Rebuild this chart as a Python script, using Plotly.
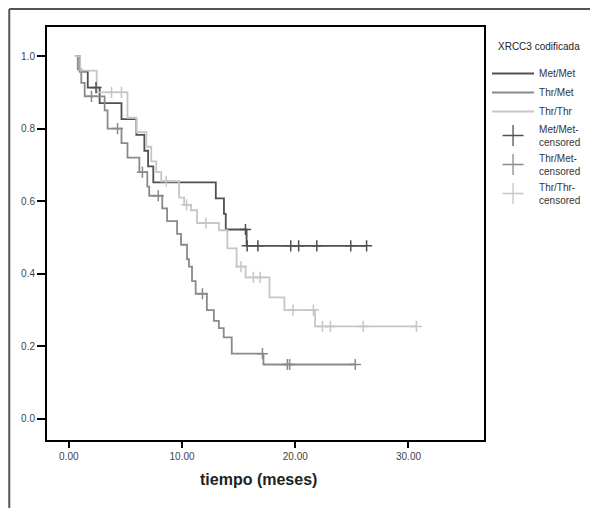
import plotly.graph_objects as go

# ---- data ----
metmet_t = [0.6, 0.96, 1.67, 2.72, 4.65, 5.96, 6.67, 7.0, 7.46, 12.98, 13.7, 13.86, 15.7, 26.3]
metmet_s = [1.0, 0.957, 0.913, 0.870, 0.826, 0.783, 0.739, 0.696, 0.652, 0.608, 0.565, 0.522, 0.477, 0.477]
metmet_cens_t = [2.4, 15.6, 15.75, 16.7, 19.6, 20.3, 21.9, 24.9, 26.3]
metmet_cens_s = [0.913, 0.522, 0.477, 0.477, 0.477, 0.477, 0.477, 0.477, 0.477]

thrmet_t = [0.53, 0.79, 1.1, 1.4, 3.16, 3.42, 4.65, 5.18, 6.23, 6.93, 7.1, 8.25, 8.68, 9.56,
            9.91, 10.44, 10.61, 10.88, 11.2, 12.19, 12.81, 13.25, 13.68, 14.39, 17.19, 25.3]
thrmet_s = [1.0, 0.963, 0.926, 0.889, 0.85, 0.80, 0.76, 0.72, 0.68, 0.64, 0.615, 0.58, 0.545, 0.51,
            0.48, 0.44, 0.42, 0.38, 0.345, 0.30, 0.27, 0.25, 0.225, 0.18, 0.15, 0.15]
thrmet_cens_t = [2.0, 4.3, 6.5, 7.9, 11.8, 17.1, 19.3, 19.5, 25.3]
thrmet_cens_s = [0.889, 0.80, 0.68, 0.615, 0.345, 0.18, 0.15, 0.15, 0.15]

thrthr_t = [0.53, 1.0, 2.46, 5.18, 5.96, 6.84, 7.28, 7.72, 8.16, 9.74, 10.18, 10.79, 11.32,
            13.25, 14.0, 14.82, 15.61, 17.72, 19.04, 21.75, 30.7]
thrthr_s = [1.0, 0.96, 0.90, 0.83, 0.79, 0.75, 0.71, 0.68, 0.655, 0.61, 0.59, 0.575, 0.54,
            0.52, 0.47, 0.42, 0.39, 0.335, 0.30, 0.255, 0.255]
thrthr_cens_t = [3.77, 4.65, 8.6, 10.4, 12.1, 15.2, 16.3, 16.9, 19.8, 21.6, 22.4, 23.1, 26.0, 30.7]
thrthr_cens_s = [0.90, 0.90, 0.655, 0.59, 0.54, 0.42, 0.39, 0.39, 0.30, 0.30, 0.255, 0.255, 0.255, 0.255]

names = ["Met/Met", "Thr/Met", "Thr/Thr"]
colors = ["#505050", "#8a8a8a", "#c6c6c6"]
x_ticks = [0, 10, 20, 30]
y_ticks = [0.0, 0.2, 0.4, 0.6, 0.8, 1.0]
legend_title = "XRCC3 codificada"
x_title = "tiempo (meses)"

FONT = "Arial, Liberation Sans, sans-serif"

fig = go.Figure()
curves = [(metmet_t, metmet_s), (thrmet_t, thrmet_s), (thrthr_t, thrthr_s)]
cens = [(metmet_cens_t, metmet_cens_s), (thrmet_cens_t, thrmet_cens_s), (thrthr_cens_t, thrthr_cens_s)]

for (t, s), n, c in zip(curves, names, colors):
    fig.add_trace(go.Scatter(x=t, y=s, mode="lines", name=n,
                             line=dict(color=c, width=1.8, shape="hv")))
for (t, s), n, c in zip(cens, names, colors):
    fig.add_trace(go.Scatter(x=t, y=s, mode="markers", showlegend=False,
                             marker=dict(symbol="cross-thin", size=8, color=c,
                                         line=dict(color=c, width=1.5))))
for n, c in zip(names, colors):
    fig.add_trace(go.Scatter(x=[None], y=[None], mode="markers", name=n + "-<br>censored",
                             marker=dict(symbol="cross-thin", size=15, color=c,
                                         line=dict(color=c, width=1.3))))

W, H = 590, 500
L, T, R, B = 39, 19, 111, 68
pw, ph = W - L - R, H - T - B

# outer frame (at the figure's left / top edge)
fx = -(L - 1) / pw
fy = 1 + (T - 1) / ph
fig.add_shape(type="line", xref="paper", yref="paper", x0=fx, x1=fx, y0=-(B + 5) / ph, y1=fy,
              line=dict(color="#555555", width=2))
fig.add_shape(type="line", xref="paper", yref="paper", x0=fx, x1=1 + (R + 5) / pw, y0=fy, y1=fy,
              line=dict(color="#555555", width=2))

# legend title
fig.add_annotation(text=legend_title, xref="paper", yref="paper", x=1.027, y=1 + (27 - 46) / ph,
                   xanchor="left", yanchor="middle", showarrow=False,
                   font=dict(size=10, color="#222222"))
# x axis title
fig.add_annotation(text="<b>" + x_title + "</b>", xref="paper", yref="paper",
                   x=(260 - 47) / pw, y=-(479 - 440) / ph, xanchor="center", yanchor="middle",
                   showarrow=False, font=dict(size=16, color="#222222"))

fig.update_layout(
    width=W, height=H,
    margin=dict(l=L, r=R, t=T, b=B),
    paper_bgcolor="white", plot_bgcolor="white",
    font=dict(family=FONT, size=10, color="#333333"),
    legend=dict(x=1.007, y=1 - (59 - 27) / ph, xanchor="left", yanchor="top",
                font=dict(size=10, color="#333333"), tracegroupgap=0, itemwidth=42,
                bgcolor="rgba(0,0,0,0)"),
    showlegend=True,
)
fig.update_xaxes(range=[-1.93, 36.67], tickvals=x_ticks, tickformat=".2f",
                 showgrid=False, zeroline=False, showline=True, linecolor="black", linewidth=2,
                 mirror=True, ticks="outside", ticklen=6, tickwidth=2, tickcolor="black",
                 tickfont=dict(size=10, color="#444444"))
fig.update_yaxes(range=[-0.058, 1.08], tickvals=y_ticks, tickformat=".1f",
                 showgrid=False, zeroline=False, showline=True, linecolor="black", linewidth=2,
                 mirror=True, ticks="outside", ticklen=8, tickwidth=2, tickcolor="black",
                 tickfont=dict(size=10, color="#444444"))

fig.write_html("out.html")
